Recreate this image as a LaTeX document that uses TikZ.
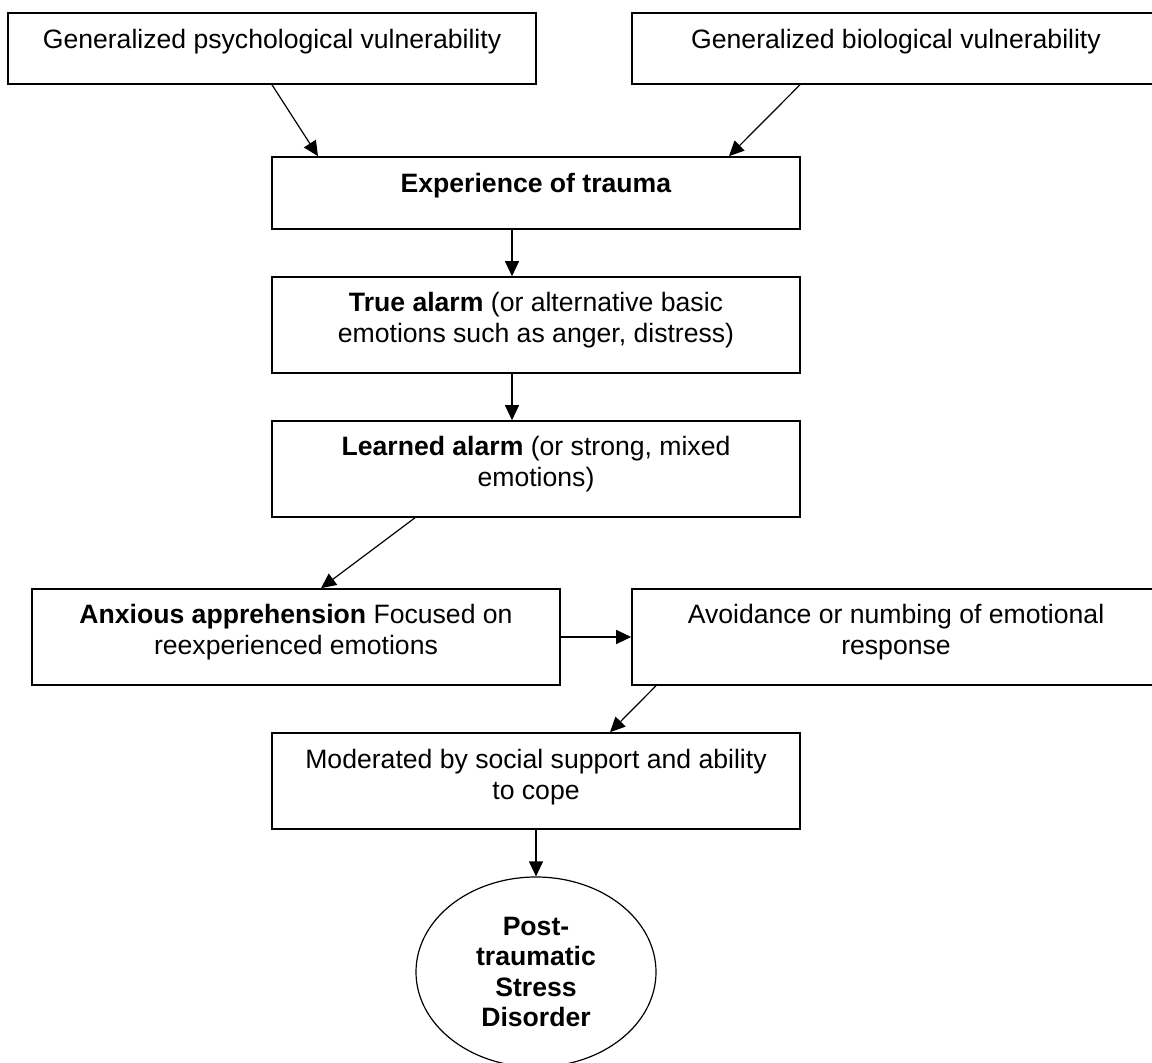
\documentclass[tikz,border=0pt]{standalone}
\usepackage{fontspec}
\setmainfont{Liberation Sans}
\usetikzlibrary{arrows.meta, shapes.geometric, calc}

\begin{document}
\begin{tikzpicture}[x=0.5pt, y=-0.5pt,
    box/.style={draw, line width=0.8pt, minimum width=264pt, minimum height=48pt,
        inner sep=0pt, align=center, font=\fontsize{13.3}{15.5}\selectfont},
    oneline/.style={text height=6pt, text depth=6pt},
    twoline/.style={text height=25.2pt, text depth=7.2pt},
    arr/.style={-{Triangle[length=7.5pt, width=7pt]}, line width=0.6pt}]

    \useasboundingbox (0,0) rectangle (1152,1063);

    % Vulnerabilities
    \node[box, oneline, minimum height=35.5pt] (psy) at (272,48.5) {Generalized psychological vulnerability};
    \node[box, oneline, minimum height=35.5pt] (bio) at (896,48.5) {Generalized biological vulnerability};

    % Central chain
    \node[box, oneline, minimum height=36pt] (trauma) at (536,193) {\textbf{Experience of trauma}};
    \node[box, twoline] (truealarm) at (536,325) {\textbf{True alarm} (or alternative basic\\emotions such as anger, distress)};
    \node[box, twoline] (learned) at (536,469) {\textbf{Learned alarm} (or strong, mixed\\emotions)};

    % Side by side
    \node[box, twoline] (anxious) at (296,637) {\textbf{Anxious apprehension} Focused on\\reexperienced emotions};
    \node[box, twoline] (avoid) at (896,637) {Avoidance or numbing of emotional\\response};

    \node[box, twoline] (coping) at (536,781) {Moderated by social support and ability\\to cope};

    % Outcome
    \node[ellipse, draw, line width=0.6pt, minimum width=120pt, minimum height=95pt, inner sep=0pt,
        align=center, font=\fontsize{13.3}{15.3}\selectfont\bfseries] (ptsd) at (536,972)
        {Post-\\traumatic\\Stress\\Disorder};

    % Arrows
    \draw[arr] (psy.south) -- ($(trauma.north)+(-218,0)$);
    \draw[arr] ($(bio.south)+(-96,0)$) -- ($(trauma.north)+(193,0)$);
    \draw[arr] ($(trauma.south)+(-24,0)$) -- ($(truealarm.north)+(-24,0)$);
    \draw[arr] ($(truealarm.south)+(-24,0)$) -- ($(learned.north)+(-24,0)$);
    \draw[arr] ($(learned.south)+(-121,0)$) -- ($(anxious.north)+(25,0)$);
    \draw[arr] (anxious.east) -- (avoid.west);
    \draw[arr] ($(avoid.south)+(-240,0)$) -- ($(coping.north)+(74,0)$);
    \draw[arr] (coping.south) -- (ptsd.north);

\end{tikzpicture}
\end{document}
